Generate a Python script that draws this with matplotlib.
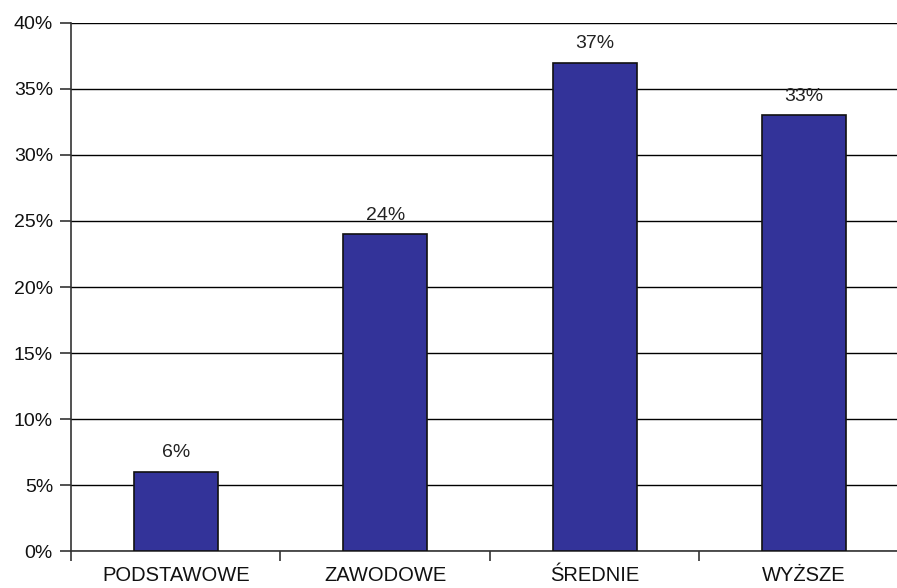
import matplotlib
matplotlib.use("Agg")
import matplotlib.pyplot as plt
import numpy as np

categories = ["PODSTAWOWE", "ZAWODOWE", "ŚREDNIE", "WYŻSZE"]
values = [6, 24, 37, 33]
y_ticks = [0, 5, 10, 15, 20, 25, 30, 35, 40]

plt.rcParams['font.family'] = ['Liberation Sans', 'DejaVu Sans']

fig = plt.figure(figsize=(8.97, 5.88), dpi=100)
ax = fig.add_axes([0.0792, 0.0629, 0.934, 0.898])

x = np.arange(len(categories))
ax.bar(x, values, 0.4, color="#333399", edgecolor="#111111", linewidth=1.2, zorder=3)
for xi, v in zip(x, values):
    ax.text(xi, v + 0.8, "%d%%" % v, ha="center", va="bottom", fontsize=14, color="#222222")

ax.set_xlim(-0.5, len(categories) - 0.5)
ax.set_ylim(0, 40)
ax.set_yticks(y_ticks)
ax.set_yticklabels(["%d%%" % t for t in y_ticks])
ax.yaxis.grid(True, color="black", linewidth=1.0, zorder=0)
ax.set_axisbelow(True)

# category labels at centres, tick marks at boundaries
ax.set_xticks(x)
ax.set_xticklabels(categories)
ax.set_xticks(np.arange(len(categories) + 1) - 0.5, minor=True)
ax.tick_params(axis="x", which="major", length=0, pad=11, labelsize=14.5, labelcolor="#111111")
ax.tick_params(axis="x", which="minor", length=7, width=1.2, color="#333333")
ax.tick_params(axis="y", length=8, width=1.2, color="#333333", labelsize=14, labelcolor="#111111", pad=5)

for side in ["top", "right"]:
    ax.spines[side].set_visible(False)
for side in ["left", "bottom"]:
    ax.spines[side].set_color("#333333")
    ax.spines[side].set_linewidth(1.2)

fig.savefig("out.png", dpi=100)
